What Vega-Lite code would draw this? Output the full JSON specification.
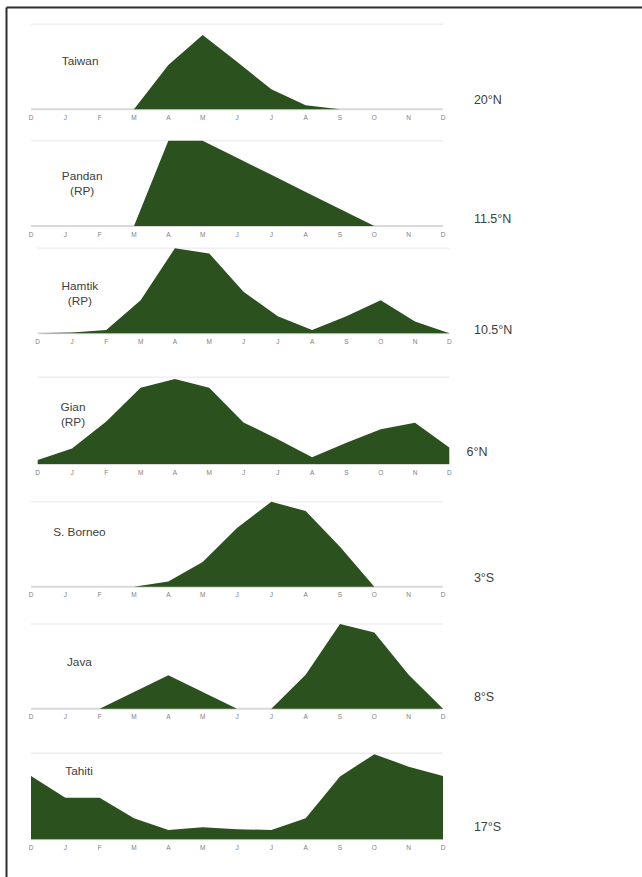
{
  "$schema": "https://vega.github.io/schema/vega-lite/v6.json",
  "width": 636,
  "height": 870,
  "autosize": "none",
  "padding": {"left": 6, "top": 7, "right": 0, "bottom": 0},
  "background": "white",
  "config": {
    "view": {"stroke": null},
    "font": "Liberation Sans",
    "axis": {"ticks": false, "grid": false, "title": null, "labels": false},
    "area": {"color": "#2b511e", "interpolate": "linear"},
    "text": {"fontSize": 11.8, "color": "#404040", "lineBreak": "\n", "lineHeight": 15, "baseline": "middle"}
  },
  "datasets": {
    "rain": [
      {"site": "Taiwan", "m": 0, "v": 0}, {"site": "Taiwan", "m": 1, "v": 0}, {"site": "Taiwan", "m": 2, "v": 0},
      {"site": "Taiwan", "m": 3, "v": 0}, {"site": "Taiwan", "m": 4, "v": 52}, {"site": "Taiwan", "m": 5, "v": 87.4},
      {"site": "Taiwan", "m": 6, "v": 56}, {"site": "Taiwan", "m": 7, "v": 23.5}, {"site": "Taiwan", "m": 8, "v": 4.7},
      {"site": "Taiwan", "m": 9, "v": 0}, {"site": "Taiwan", "m": 10, "v": 0}, {"site": "Taiwan", "m": 11, "v": 0},
      {"site": "Taiwan", "m": 12, "v": 0},
      {"site": "Pandan", "m": 0, "v": 0}, {"site": "Pandan", "m": 1, "v": 0}, {"site": "Pandan", "m": 2, "v": 0},
      {"site": "Pandan", "m": 3, "v": 0}, {"site": "Pandan", "m": 4, "v": 100}, {"site": "Pandan", "m": 5, "v": 100},
      {"site": "Pandan", "m": 6, "v": 80}, {"site": "Pandan", "m": 7, "v": 60}, {"site": "Pandan", "m": 8, "v": 40},
      {"site": "Pandan", "m": 9, "v": 20}, {"site": "Pandan", "m": 10, "v": 0}, {"site": "Pandan", "m": 11, "v": 0},
      {"site": "Pandan", "m": 12, "v": 0},
      {"site": "Hamtik", "m": 0, "v": 0}, {"site": "Hamtik", "m": 1, "v": 1}, {"site": "Hamtik", "m": 2, "v": 4},
      {"site": "Hamtik", "m": 3, "v": 39}, {"site": "Hamtik", "m": 4, "v": 100}, {"site": "Hamtik", "m": 5, "v": 94},
      {"site": "Hamtik", "m": 6, "v": 49}, {"site": "Hamtik", "m": 7, "v": 20}, {"site": "Hamtik", "m": 8, "v": 4},
      {"site": "Hamtik", "m": 9, "v": 20}, {"site": "Hamtik", "m": 10, "v": 39}, {"site": "Hamtik", "m": 11, "v": 14},
      {"site": "Hamtik", "m": 12, "v": 0},
      {"site": "Gian", "m": 0, "v": 4.6}, {"site": "Gian", "m": 1, "v": 18}, {"site": "Gian", "m": 2, "v": 49},
      {"site": "Gian", "m": 3, "v": 88}, {"site": "Gian", "m": 4, "v": 98}, {"site": "Gian", "m": 5, "v": 88},
      {"site": "Gian", "m": 6, "v": 48}, {"site": "Gian", "m": 7, "v": 28.5}, {"site": "Gian", "m": 8, "v": 7.7},
      {"site": "Gian", "m": 9, "v": 24.6}, {"site": "Gian", "m": 10, "v": 40}, {"site": "Gian", "m": 11, "v": 47.7},
      {"site": "Gian", "m": 12, "v": 19},
      {"site": "Borneo", "m": 0, "v": 0}, {"site": "Borneo", "m": 1, "v": 0}, {"site": "Borneo", "m": 2, "v": 0},
      {"site": "Borneo", "m": 3, "v": 0}, {"site": "Borneo", "m": 4, "v": 6}, {"site": "Borneo", "m": 5, "v": 29},
      {"site": "Borneo", "m": 6, "v": 69}, {"site": "Borneo", "m": 7, "v": 100}, {"site": "Borneo", "m": 8, "v": 89},
      {"site": "Borneo", "m": 9, "v": 47}, {"site": "Borneo", "m": 10, "v": 0}, {"site": "Borneo", "m": 11, "v": 0},
      {"site": "Borneo", "m": 12, "v": 0},
      {"site": "Java", "m": 0, "v": 0}, {"site": "Java", "m": 1, "v": 0}, {"site": "Java", "m": 2, "v": 0},
      {"site": "Java", "m": 3, "v": 19.7}, {"site": "Java", "m": 4, "v": 39.4}, {"site": "Java", "m": 5, "v": 19.7},
      {"site": "Java", "m": 6, "v": 0}, {"site": "Java", "m": 7, "v": 0}, {"site": "Java", "m": 8, "v": 40},
      {"site": "Java", "m": 9, "v": 100}, {"site": "Java", "m": 10, "v": 90}, {"site": "Java", "m": 11, "v": 40},
      {"site": "Java", "m": 12, "v": 0},
      {"site": "Tahiti", "m": 0, "v": 73.6}, {"site": "Tahiti", "m": 1, "v": 48.4}, {"site": "Tahiti", "m": 2, "v": 48.4},
      {"site": "Tahiti", "m": 3, "v": 24.4}, {"site": "Tahiti", "m": 4, "v": 10.9}, {"site": "Tahiti", "m": 5, "v": 14},
      {"site": "Tahiti", "m": 6, "v": 11.6}, {"site": "Tahiti", "m": 7, "v": 10.9}, {"site": "Tahiti", "m": 8, "v": 24.4},
      {"site": "Tahiti", "m": 9, "v": 72.9}, {"site": "Tahiti", "m": 10, "v": 99}, {"site": "Tahiti", "m": 11, "v": 84.5},
      {"site": "Tahiti", "m": 12, "v": 73.6}
    ],
    "sites": [
      {"site": "Taiwan", "name": "Taiwan", "lat": "20°N"},
      {"site": "Pandan", "name": "Pandan\n(RP)", "lat": "11.5°N"},
      {"site": "Hamtik", "name": "Hamtik\n(RP)", "lat": "10.5°N"},
      {"site": "Gian", "name": "Gian\n(RP)", "lat": "6°N"},
      {"site": "Borneo", "name": "S. Borneo", "lat": "3°S"},
      {"site": "Java", "name": "Java", "lat": "8°S"},
      {"site": "Tahiti", "name": "Tahiti", "lat": "17°S"}
    ],
    "months": [
      {"m": 0, "label": "D"}, {"m": 1, "label": "J"}, {"m": 2, "label": "F"}, {"m": 3, "label": "M"},
      {"m": 4, "label": "A"}, {"m": 5, "label": "M"}, {"m": 6, "label": "J"}, {"m": 7, "label": "J"},
      {"m": 8, "label": "A"}, {"m": 9, "label": "S"}, {"m": 10, "label": "O"}, {"m": 11, "label": "N"},
      {"m": 12, "label": "D"}
    ]
  },
  "layer": [
    {
      "description": "frame: top and left axis domain lines of a full-size scale",
      "data": {"name": "sites"},
      "transform": [{"filter": "datum.site === 'Taiwan'"}],
      "mark": {"type": "point", "opacity": 0},
      "encoding": {
        "x": {"datum": 0, "type": "quantitative", "scale": {"domain": [0, 1]},
              "axis": {"orient": "top", "values": [], "domainColor": "#2e2e2e", "domainWidth": 2}},
        "y": {"datum": 0, "type": "quantitative", "scale": {"domain": [0, 1]},
              "axis": {"orient": "left", "values": [], "domainColor": "#2e2e2e", "domainWidth": 2}}
      }
    },
    {
      "layer": [
        {"data": {"name": "sites"}, "transform": [{"filter": "datum.site === 'Taiwan'"}],
         "mark": {"type": "rule", "color": "#d9d9d9", "strokeWidth": 2},
         "encoding": {"x": {"datum": 0, "type": "quantitative", "scale": {"domain": [0, 12], "range": [25, 437], "nice": false, "zero": false}, "axis": null},
                      "x2": {"datum": 12},
                      "y": {"datum": 0, "type": "quantitative", "scale": {"domain": [0, 100], "range": [102.3, 17.3], "nice": false}, "axis": null}}},
        {"data": {"name": "sites"}, "transform": [{"filter": "datum.site === 'Taiwan'"}],
         "mark": {"type": "rule", "color": "#efefef", "strokeWidth": 1.5},
         "encoding": {"x": {"datum": 0, "axis": null}, "x2": {"datum": 12}, "y": {"datum": 100, "axis": null}}},
        {"data": {"name": "rain"}, "transform": [{"filter": "datum.site === 'Taiwan'"}],
         "mark": "area",
         "encoding": {"x": {"field": "m", "type": "quantitative", "axis": null}, "y": {"field": "v", "type": "quantitative", "axis": null}}},
        {"data": {"name": "months"}, "mark": {"type": "text", "fontSize": 6.5, "color": "#808080", "dy": 8.5, "align": "center"},
         "encoding": {"x": {"field": "m", "type": "quantitative", "axis": null}, "y": {"datum": 0, "axis": null}, "text": {"field": "label"}}},
        {"data": {"name": "sites"}, "transform": [{"filter": "datum.site === 'Taiwan'"}],
         "mark": {"type": "text", "align": "center"},
         "encoding": {"x": {"datum": 1.43, "axis": null}, "y": {"datum": 56.8, "axis": null}, "text": {"field": "name"}}},
        {"data": {"name": "sites"}, "transform": [{"filter": "datum.site === 'Taiwan'"}],
         "mark": {"type": "text", "align": "left", "fontSize": 12.5},
         "encoding": {"x": {"datum": 12.9, "axis": null}, "y": {"datum": 10.9, "axis": null}, "text": {"field": "lat"}}}
      ]
    },
    {
      "layer": [
        {"data": {"name": "sites"}, "transform": [{"filter": "datum.site === 'Pandan'"}],
         "mark": {"type": "rule", "color": "#d9d9d9", "strokeWidth": 2},
         "encoding": {"x": {"datum": 0, "type": "quantitative", "scale": {"domain": [0, 12], "range": [25, 437], "nice": false, "zero": false}, "axis": null},
                      "x2": {"datum": 12},
                      "y": {"datum": 0, "type": "quantitative", "scale": {"domain": [0, 100], "range": [219, 133.7], "nice": false}, "axis": null}}},
        {"data": {"name": "sites"}, "transform": [{"filter": "datum.site === 'Pandan'"}],
         "mark": {"type": "rule", "color": "#efefef", "strokeWidth": 1.5},
         "encoding": {"x": {"datum": 0, "axis": null}, "x2": {"datum": 12}, "y": {"datum": 100, "axis": null}}},
        {"data": {"name": "rain"}, "transform": [{"filter": "datum.site === 'Pandan'"}],
         "mark": "area",
         "encoding": {"x": {"field": "m", "type": "quantitative", "axis": null}, "y": {"field": "v", "type": "quantitative", "axis": null}}},
        {"data": {"name": "months"}, "mark": {"type": "text", "fontSize": 6.5, "color": "#808080", "dy": 8.5, "align": "center"},
         "encoding": {"x": {"field": "m", "type": "quantitative", "axis": null}, "y": {"datum": 0, "axis": null}, "text": {"field": "label"}}},
        {"data": {"name": "sites"}, "transform": [{"filter": "datum.site === 'Pandan'"}],
         "mark": {"type": "text", "align": "center"},
         "encoding": {"x": {"datum": 1.49, "axis": null}, "y": {"datum": 59.2, "axis": null}, "text": {"field": "name"}}},
        {"data": {"name": "sites"}, "transform": [{"filter": "datum.site === 'Pandan'"}],
         "mark": {"type": "text", "align": "left", "fontSize": 12.5},
         "encoding": {"x": {"datum": 12.9, "axis": null}, "y": {"datum": 8.2, "axis": null}, "text": {"field": "lat"}}}
      ]
    },
    {
      "layer": [
        {"data": {"name": "sites"}, "transform": [{"filter": "datum.site === 'Hamtik'"}],
         "mark": {"type": "rule", "color": "#d9d9d9", "strokeWidth": 2},
         "encoding": {"x": {"datum": 0, "type": "quantitative", "scale": {"domain": [0, 12], "range": [31.7, 443.3], "nice": false, "zero": false}, "axis": null},
                      "x2": {"datum": 12},
                      "y": {"datum": 0, "type": "quantitative", "scale": {"domain": [0, 100], "range": [326.3, 241.3], "nice": false}, "axis": null}}},
        {"data": {"name": "sites"}, "transform": [{"filter": "datum.site === 'Hamtik'"}],
         "mark": {"type": "rule", "color": "#efefef", "strokeWidth": 1.5},
         "encoding": {"x": {"datum": 0, "axis": null}, "x2": {"datum": 12}, "y": {"datum": 100, "axis": null}}},
        {"data": {"name": "rain"}, "transform": [{"filter": "datum.site === 'Hamtik'"}],
         "mark": "area",
         "encoding": {"x": {"field": "m", "type": "quantitative", "axis": null}, "y": {"field": "v", "type": "quantitative", "axis": null}}},
        {"data": {"name": "months"}, "mark": {"type": "text", "fontSize": 6.5, "color": "#808080", "dy": 8.5, "align": "center"},
         "encoding": {"x": {"field": "m", "type": "quantitative", "axis": null}, "y": {"datum": 0, "axis": null}, "text": {"field": "label"}}},
        {"data": {"name": "sites"}, "transform": [{"filter": "datum.site === 'Hamtik'"}],
         "mark": {"type": "text", "align": "center"},
         "encoding": {"x": {"datum": 1.23, "axis": null}, "y": {"datum": 56.2, "axis": null}, "text": {"field": "name"}}},
        {"data": {"name": "sites"}, "transform": [{"filter": "datum.site === 'Hamtik'"}],
         "mark": {"type": "text", "align": "left", "fontSize": 12.5},
         "encoding": {"x": {"datum": 12.72, "axis": null}, "y": {"datum": 3.9, "axis": null}, "text": {"field": "lat"}}}
      ]
    },
    {
      "layer": [
        {"data": {"name": "sites"}, "transform": [{"filter": "datum.site === 'Gian'"}],
         "mark": {"type": "rule", "color": "#d9d9d9", "strokeWidth": 2},
         "encoding": {"x": {"datum": 0, "type": "quantitative", "scale": {"domain": [0, 12], "range": [31.7, 443.3], "nice": false, "zero": false}, "axis": null},
                      "x2": {"datum": 12},
                      "y": {"datum": 0, "type": "quantitative", "scale": {"domain": [0, 100], "range": [457, 370.3], "nice": false}, "axis": null}}},
        {"data": {"name": "sites"}, "transform": [{"filter": "datum.site === 'Gian'"}],
         "mark": {"type": "rule", "color": "#efefef", "strokeWidth": 1.5},
         "encoding": {"x": {"datum": 0, "axis": null}, "x2": {"datum": 12}, "y": {"datum": 100, "axis": null}}},
        {"data": {"name": "rain"}, "transform": [{"filter": "datum.site === 'Gian'"}],
         "mark": "area",
         "encoding": {"x": {"field": "m", "type": "quantitative", "axis": null}, "y": {"field": "v", "type": "quantitative", "axis": null}}},
        {"data": {"name": "months"}, "mark": {"type": "text", "fontSize": 6.5, "color": "#808080", "dy": 8.5, "align": "center"},
         "encoding": {"x": {"field": "m", "type": "quantitative", "axis": null}, "y": {"datum": 0, "axis": null}, "text": {"field": "label"}}},
        {"data": {"name": "sites"}, "transform": [{"filter": "datum.site === 'Gian'"}],
         "mark": {"type": "text", "align": "center"},
         "encoding": {"x": {"datum": 1.03, "axis": null}, "y": {"datum": 65.2, "axis": null}, "text": {"field": "name"}}},
        {"data": {"name": "sites"}, "transform": [{"filter": "datum.site === 'Gian'"}],
         "mark": {"type": "text", "align": "left", "fontSize": 12.5},
         "encoding": {"x": {"datum": 12.5, "axis": null}, "y": {"datum": 13.8, "axis": null}, "text": {"field": "lat"}}}
      ]
    },
    {
      "layer": [
        {"data": {"name": "sites"}, "transform": [{"filter": "datum.site === 'Borneo'"}],
         "mark": {"type": "rule", "color": "#d9d9d9", "strokeWidth": 2},
         "encoding": {"x": {"datum": 0, "type": "quantitative", "scale": {"domain": [0, 12], "range": [25, 437], "nice": false, "zero": false}, "axis": null},
                      "x2": {"datum": 12},
                      "y": {"datum": 0, "type": "quantitative", "scale": {"domain": [0, 100], "range": [579.7, 494.7], "nice": false}, "axis": null}}},
        {"data": {"name": "sites"}, "transform": [{"filter": "datum.site === 'Borneo'"}],
         "mark": {"type": "rule", "color": "#efefef", "strokeWidth": 1.5},
         "encoding": {"x": {"datum": 0, "axis": null}, "x2": {"datum": 12}, "y": {"datum": 100, "axis": null}}},
        {"data": {"name": "rain"}, "transform": [{"filter": "datum.site === 'Borneo'"}],
         "mark": "area",
         "encoding": {"x": {"field": "m", "type": "quantitative", "axis": null}, "y": {"field": "v", "type": "quantitative", "axis": null}}},
        {"data": {"name": "months"}, "mark": {"type": "text", "fontSize": 6.5, "color": "#808080", "dy": 8.5, "align": "center"},
         "encoding": {"x": {"field": "m", "type": "quantitative", "axis": null}, "y": {"datum": 0, "axis": null}, "text": {"field": "label"}}},
        {"data": {"name": "sites"}, "transform": [{"filter": "datum.site === 'Borneo'"}],
         "mark": {"type": "text", "align": "center"},
         "encoding": {"x": {"datum": 1.41, "axis": null}, "y": {"datum": 64.4, "axis": null}, "text": {"field": "name"}}},
        {"data": {"name": "sites"}, "transform": [{"filter": "datum.site === 'Borneo'"}],
         "mark": {"type": "text", "align": "left", "fontSize": 12.5},
         "encoding": {"x": {"datum": 12.9, "axis": null}, "y": {"datum": 10.2, "axis": null}, "text": {"field": "lat"}}}
      ]
    },
    {
      "layer": [
        {"data": {"name": "sites"}, "transform": [{"filter": "datum.site === 'Java'"}],
         "mark": {"type": "rule", "color": "#d9d9d9", "strokeWidth": 2},
         "encoding": {"x": {"datum": 0, "type": "quantitative", "scale": {"domain": [0, 12], "range": [25, 437], "nice": false, "zero": false}, "axis": null},
                      "x2": {"datum": 12},
                      "y": {"datum": 0, "type": "quantitative", "scale": {"domain": [0, 100], "range": [701.7, 617], "nice": false}, "axis": null}}},
        {"data": {"name": "sites"}, "transform": [{"filter": "datum.site === 'Java'"}],
         "mark": {"type": "rule", "color": "#efefef", "strokeWidth": 1.5},
         "encoding": {"x": {"datum": 0, "axis": null}, "x2": {"datum": 12}, "y": {"datum": 100, "axis": null}}},
        {"data": {"name": "rain"}, "transform": [{"filter": "datum.site === 'Java'"}],
         "mark": "area",
         "encoding": {"x": {"field": "m", "type": "quantitative", "axis": null}, "y": {"field": "v", "type": "quantitative", "axis": null}}},
        {"data": {"name": "months"}, "mark": {"type": "text", "fontSize": 6.5, "color": "#808080", "dy": 8.5, "align": "center"},
         "encoding": {"x": {"field": "m", "type": "quantitative", "axis": null}, "y": {"datum": 0, "axis": null}, "text": {"field": "label"}}},
        {"data": {"name": "sites"}, "transform": [{"filter": "datum.site === 'Java'"}],
         "mark": {"type": "text", "align": "center"},
         "encoding": {"x": {"datum": 1.41, "axis": null}, "y": {"datum": 55.1, "axis": null}, "text": {"field": "name"}}},
        {"data": {"name": "sites"}, "transform": [{"filter": "datum.site === 'Java'"}],
         "mark": {"type": "text", "align": "left", "fontSize": 12.5},
         "encoding": {"x": {"datum": 12.9, "axis": null}, "y": {"datum": 13.8, "axis": null}, "text": {"field": "lat"}}}
      ]
    },
    {
      "layer": [
        {"data": {"name": "sites"}, "transform": [{"filter": "datum.site === 'Tahiti'"}],
         "mark": {"type": "rule", "color": "#d9d9d9", "strokeWidth": 2},
         "encoding": {"x": {"datum": 0, "type": "quantitative", "scale": {"domain": [0, 12], "range": [25, 437], "nice": false, "zero": false}, "axis": null},
                      "x2": {"datum": 12},
                      "y": {"datum": 0, "type": "quantitative", "scale": {"domain": [0, 100], "range": [832.3, 746.3], "nice": false}, "axis": null}}},
        {"data": {"name": "sites"}, "transform": [{"filter": "datum.site === 'Tahiti'"}],
         "mark": {"type": "rule", "color": "#efefef", "strokeWidth": 1.5},
         "encoding": {"x": {"datum": 0, "axis": null}, "x2": {"datum": 12}, "y": {"datum": 100, "axis": null}}},
        {"data": {"name": "rain"}, "transform": [{"filter": "datum.site === 'Tahiti'"}],
         "mark": "area",
         "encoding": {"x": {"field": "m", "type": "quantitative", "axis": null}, "y": {"field": "v", "type": "quantitative", "axis": null}}},
        {"data": {"name": "months"}, "mark": {"type": "text", "fontSize": 6.5, "color": "#808080", "dy": 8.5, "align": "center"},
         "encoding": {"x": {"field": "m", "type": "quantitative", "axis": null}, "y": {"datum": 0, "axis": null}, "text": {"field": "label"}}},
        {"data": {"name": "sites"}, "transform": [{"filter": "datum.site === 'Tahiti'"}],
         "mark": {"type": "text", "align": "center"},
         "encoding": {"x": {"datum": 1.40, "axis": null}, "y": {"datum": 79.4, "axis": null}, "text": {"field": "name"}}},
        {"data": {"name": "sites"}, "transform": [{"filter": "datum.site === 'Tahiti'"}],
         "mark": {"type": "text", "align": "left", "fontSize": 12.5},
         "encoding": {"x": {"datum": 12.9, "axis": null}, "y": {"datum": 14.3, "axis": null}, "text": {"field": "lat"}}}
      ]
    }
  ],
  "resolve": {
    "scale": {"x": "independent", "y": "independent"},
    "axis": {"x": "independent", "y": "independent"}
  }
}
